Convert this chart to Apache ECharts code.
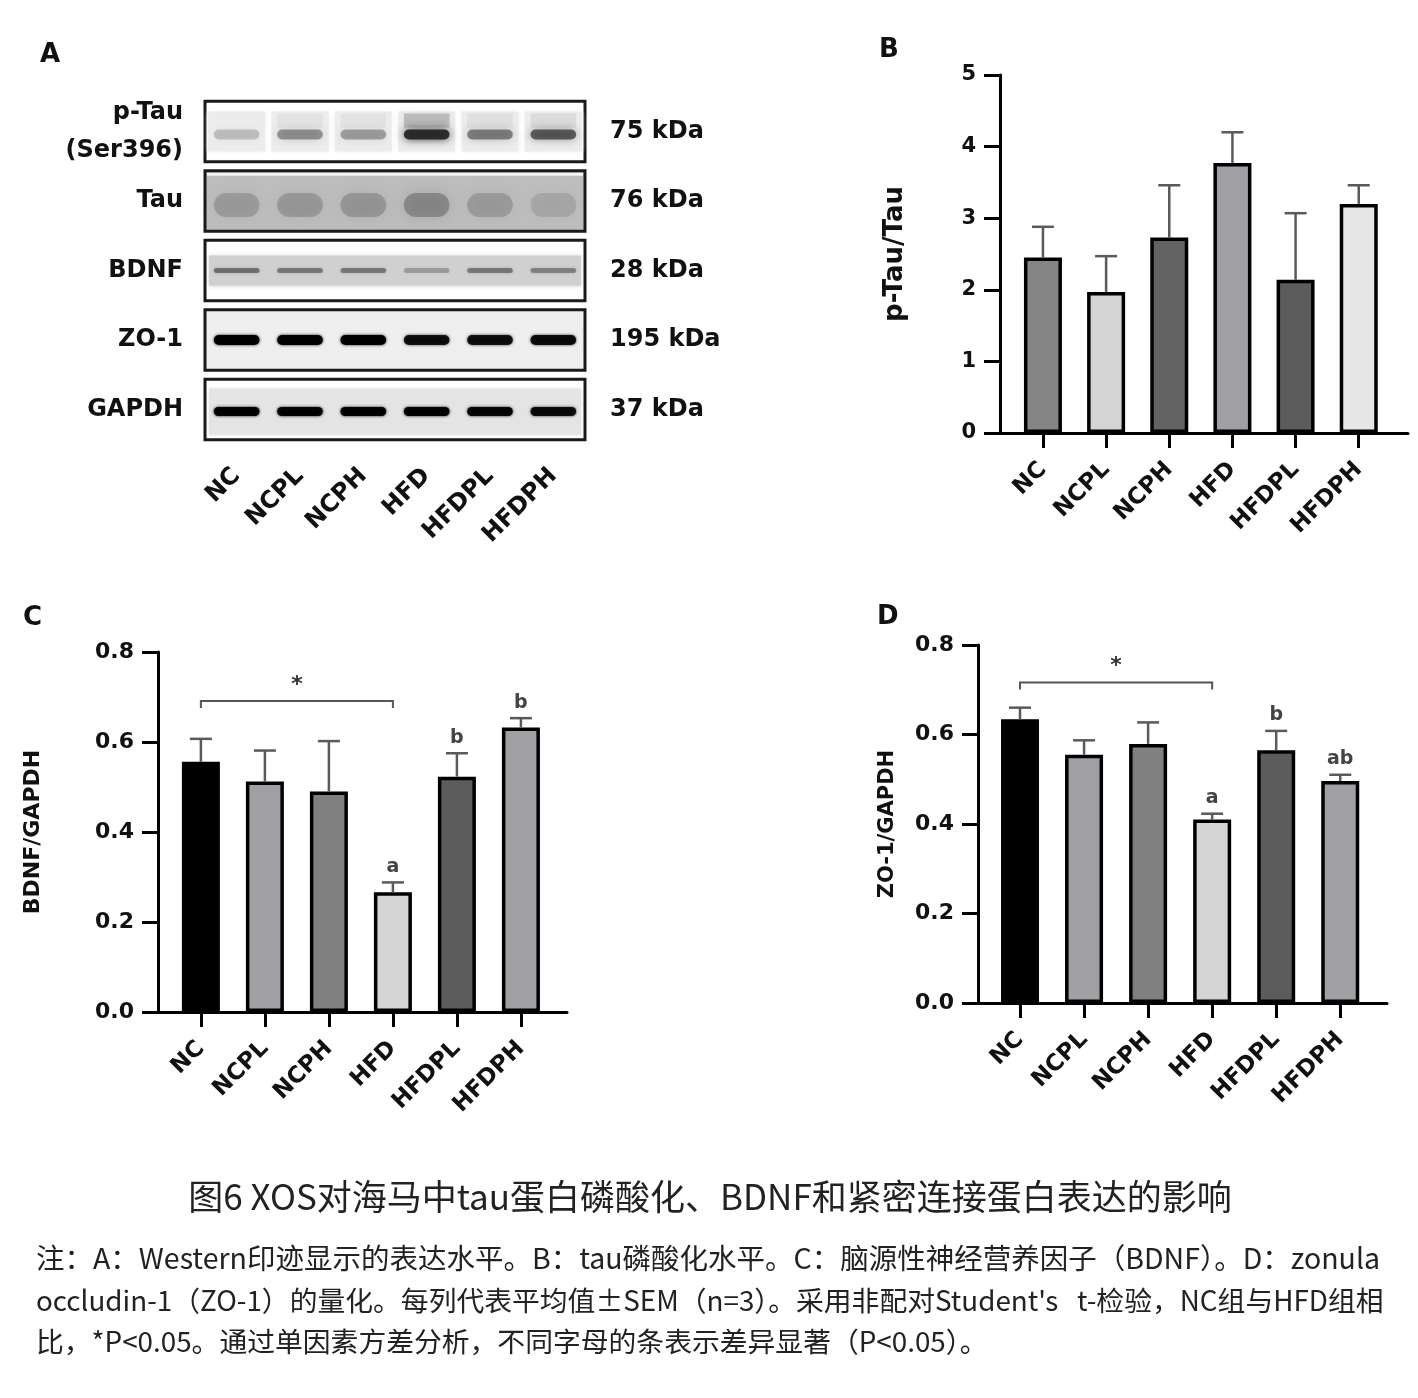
<!DOCTYPE html>
<html>
<head>
<meta charset="utf-8">
<title>图6 XOS对海马中tau蛋白磷酸化、BDNF和紧密连接蛋白表达的影响</title>
<style>
  html, body { margin: 0; padding: 0; background: #fff; }
  #main { width: 1418px; height: 1398px; }
</style>
<script src="https://cdn.jsdelivr.net/npm/echarts@6/dist/echarts.min.js"></script>
</head>
<body>
<div id="main"></div>
<script>
var groups = ['NC', 'NCPL', 'NCPH', 'HFD', 'HFDPL', 'HFDPH'];

// A: western blot, band darkness per lane (0 none .. 1 black), by eye
var blotProteins = ['p-Tau\n(Ser396)', 'Tau', 'BDNF', 'ZO-1', 'GAPDH'];
var blotSizes = ['75 kDa', '76 kDa', '28 kDa', '195 kDa', '37 kDa'];
var pTauBand  = [0.22, 0.42, 0.36, 0.92, 0.50, 0.66];
var pTauSmear = [0.00, 0.04, 0.04, 0.22, 0.06, 0.08];
var tauBand   = [0.30, 0.32, 0.34, 0.45, 0.30, 0.20];
var bdnfBand  = [0.55, 0.50, 0.50, 0.30, 0.50, 0.45];
var zo1Band   = [0.95, 0.95, 0.95, 0.85, 0.85, 0.88];
var gapdhBand = [0.95, 0.95, 0.95, 0.95, 0.92, 0.88];

// B: p-Tau/Tau
var ptauMean = [2.45, 1.97, 2.73, 3.77, 2.14, 3.20];
var ptauSem  = [0.43, 0.50, 0.73, 0.43, 0.93, 0.26];

// C: BDNF/GAPDH
var bdnfMean = [0.556, 0.512, 0.490, 0.266, 0.523, 0.632];
var bdnfSem  = [0.051, 0.069, 0.112, 0.022, 0.052, 0.021];
var bdnfLetters = ['', '', '', 'a', 'b', 'b'];
var bdnfCompare = [0, 3, 0.691];   // NC vs HFD, bracket height

// D: ZO-1/GAPDH
var zoMean = [0.634, 0.555, 0.579, 0.410, 0.565, 0.496];
var zoSem  = [0.026, 0.032, 0.048, 0.013, 0.043, 0.014];
var zoLetters = ['', '', '', 'a', 'b', 'ab'];
var zoCompare = [0, 3, 0.716];

/* styles */
var colorsB  = ['#858585', '#d4d4d4', '#626262', '#a0a0a4', '#5c5c5c', '#e6e6e6'];
var colorsCD = ['#000000', '#a0a0a4', '#808080', '#d4d4d4', '#5c5c5c', '#a0a0a4'];
var rowStyle = [
  { fill: '#ffffff', lane: '#ececec', laneH: 40, bandH: 10, dy: 3, ink: '35,35,35', blur: 8 },
  { fill: '#bdbdbd', lane: null, laneH: 0, bandH: 24, dy: 4, ink: '85,85,85', blur: 14 },
  { fill: '#ffffff', strip: '#d0d0d0', stripH: 30, bandH: 5, dy: 0, ink: '60,60,60', blur: 3 },
  { fill: '#eeeeee', bandH: 10, dy: 0, ink: '0,0,0', blur: 3 },
  { fill: '#ffffff', strip: '#e4e4e4', stripH: 46, bandH: 9, dy: 2, ink: '0,0,0', blur: 3 }
];
var FONT = 'DejaVu Sans';
var CJK = 'Noto Sans CJK SC';

var bandRows = [pTauBand, tauBand, bdnfBand, zo1Band, gapdhBand];
var bandData = [];
bandRows.forEach(function (row, r) {
  row.forEach(function (v, l) {
    bandData.push([l, r, v, r === 0 ? pTauSmear[l] : 0]);
  });
});

/*蛋白条带框*/
function frameRender(params, api) {
  var cs = params.coordSys;
  var r = api.value(1);
  var c = api.coord([0, r]);
  var h = api.size([0, 1])[1] * 0.87;
  var st = rowStyle[r];
  var kids = [{
    type: 'rect',
    shape: { x: cs.x, y: c[1] - h / 2, width: cs.width, height: h },
    style: { fill: st.fill }
  }];
  if (st.strip) {
    kids.push({
      type: 'rect',
      shape: { x: cs.x + 4, y: c[1] - st.stripH / 2 + st.dy, width: cs.width - 8, height: st.stripH },
      style: { fill: st.strip, shadowBlur: 4, shadowColor: st.strip }
    });
  }
  if (r === 1) {
    kids.push({
      type: 'rect',
      shape: { x: cs.x + 2, y: c[1] - h / 2 + 2, width: cs.width - 4, height: 3 },
      style: { fill: '#f4f4f4' }
    });
  }
  kids.push({
    type: 'rect',
    shape: { x: cs.x, y: c[1] - h / 2, width: cs.width, height: h },
    style: { fill: 'none', stroke: '#1a1a1a', lineWidth: 3 }
  });
  return { type: 'group', children: kids };
}

function bandRender(params, api) {
  var l = api.value(0), r = api.value(1), a = api.value(2), smear = api.value(3);
  var c = api.coord([l, r]);
  var pitch = api.size([1, 0])[0];
  var w = pitch * 0.72;
  var st = rowStyle[r];
  var kids = [];
  if (st.lane) {
    kids.push({
      type: 'rect',
      shape: { x: c[0] - pitch * 0.45, y: c[1] - st.laneH / 2, width: pitch * 0.9, height: st.laneH },
      style: { fill: st.lane, shadowBlur: 5, shadowColor: st.lane }
    });
  }
  if (smear > 0) {
    kids.push({
      type: 'rect',
      shape: { x: c[0] - w / 2, y: c[1] - 18, width: w, height: 14 },
      style: { fill: 'rgba(' + st.ink + ',' + smear + ')', shadowBlur: 10, shadowColor: 'rgba(' + st.ink + ',' + smear + ')' }
    });
  }
  var col = 'rgba(' + st.ink + ',' + a + ')';
  kids.push({
    type: 'rect',
    shape: { x: c[0] - w / 2, y: c[1] + st.dy - st.bandH / 2, width: w, height: st.bandH, r: st.bandH / 2 },
    style: { fill: col, shadowBlur: st.blur, shadowColor: col }
  });
  return { type: 'group', children: kids };
}

/*误差线与字母标记*/
function errRender(letters) {
  return function (params, api) {
    var x = api.value(0);
    var lo = api.coord([x, api.value(1)]);
    var hi = api.coord([x, api.value(2)]);
    var cap = 22;
    var kids = [
      { type: 'line', shape: { x1: lo[0], y1: lo[1], x2: hi[0], y2: hi[1] }, style: { stroke: '#5a5a5a', lineWidth: 2.5 } },
      { type: 'line', shape: { x1: hi[0] - cap / 2, y1: hi[1], x2: hi[0] + cap / 2, y2: hi[1] }, style: { stroke: '#5a5a5a', lineWidth: 2.5 } }
    ];
    var t = letters ? letters[params.dataIndex] : '';
    if (t) {
      kids.push({
        type: 'text', x: hi[0], y: hi[1] - 6,
        style: { text: t, fill: '#444', fontSize: 19, fontWeight: 'bold', fontFamily: FONT, align: 'center', verticalAlign: 'bottom' }
      });
    }
    return { type: 'group', children: kids };
  };
}

function bracketRender(params, api) {
  var y = api.value(2);
  var a = api.coord([api.value(0), y]);
  var b = api.coord([api.value(1), y]);
  var drop = 7;
  return {
    type: 'group',
    children: [
      { type: 'polyline', shape: { points: [[a[0], a[1] + drop], [a[0], a[1]], [b[0], b[1]], [b[0], b[1] + drop]] },
        style: { fill: 'none', stroke: '#555', lineWidth: 2 } },
      { type: 'text', x: (a[0] + b[0]) / 2, y: a[1] - 16,
        style: { text: '*', fill: '#333', fontSize: 22, fontWeight: 'bold', fontFamily: FONT, align: 'center', verticalAlign: 'middle' } }
    ]
  };
}

function barAxisX(gridIndex, min, max) {
  return {
    gridIndex: gridIndex, type: 'value', min: min, max: max,
    axisLine: { show: true, onZero: false, lineStyle: { color: '#000', width: 3 } },
    axisTick: { show: true, customValues: [0, 1, 2, 3, 4, 5], length: 15, lineStyle: { color: '#000', width: 3 } },
    axisLabel: {
      customValues: [0, 1, 2, 3, 4, 5], rotate: 45, margin: 33,
      fontSize: 23, fontWeight: 'bold', fontFamily: FONT, color: '#111',
      formatter: function (v) { return groups[v]; }
    },
    splitLine: { show: false }
  };
}

function barAxisY(gridIndex, max, interval, digits, name, nameSize, nameGap, tickSize) {
  return {
    gridIndex: gridIndex, type: 'value', min: 0, max: max, interval: interval,
    name: name, nameLocation: 'middle', nameGap: nameGap,
    nameTextStyle: { fontSize: nameSize, fontWeight: 'bold', fontFamily: FONT, color: '#111' },
    axisLine: { show: true, onZero: false, lineStyle: { color: '#000', width: 3 } },
    axisTick: { show: true, length: 16, lineStyle: { color: '#000', width: 3 } },
    axisLabel: {
      margin: 24, fontSize: tickSize, fontWeight: 'bold', fontFamily: FONT, color: '#111',
      formatter: function (v) { return v.toFixed(digits); }
    },
    splitLine: { show: false }
  };
}

// xAxis index = panel grid, yAxis index = grid + 1 (grid 0 has two y axes)
function barSeries(g, mean, colors) {
  return {
    type: 'bar', xAxisIndex: g, yAxisIndex: g + 1, barWidth: 38,
    data: mean.map(function (v, i) {
      return { value: [i, v], itemStyle: { color: colors[i] } };
    }),
    itemStyle: { borderColor: '#000', borderWidth: 3.5 },
    silent: true, z: 2
  };
}

function errSeries(g, mean, sem, letters) {
  return {
    type: 'custom', xAxisIndex: g, yAxisIndex: g + 1,
    renderItem: errRender(letters),
    data: mean.map(function (v, i) { return [i, v, v + sem[i]]; }),
    silent: true, z: 3
  };
}

function bracketSeries(g, compare) {
  return {
    type: 'custom', xAxisIndex: g, yAxisIndex: g + 1,
    renderItem: bracketRender, data: [compare], silent: true, z: 3
  };
}

var chart = echarts.init(document.getElementById('main'), null, { renderer: 'canvas' });

var option = {
  backgroundColor: '#ffffff',
  animation: false,
  grid: [
    { left: 205, top: 96.75, width: 380, height: 347.5, outerBoundsMode: 'none' },
    { left: 1000, top: 75, width: 408, height: 358, outerBoundsMode: 'none' },
    { left: 158, top: 652, width: 409, height: 360, outerBoundsMode: 'none' },
    { left: 978, top: 645, width: 409, height: 358, outerBoundsMode: 'none' }
  ],
  xAxis: [
    {
      gridIndex: 0, type: 'category', data: groups,
      axisLine: { show: false }, axisTick: { show: false },
      axisLabel: { rotate: 45, margin: 28, fontSize: 24, fontWeight: 'bold', fontFamily: FONT, color: '#111' }
    },
    barAxisX(1, -0.68, 5.78),
    barAxisX(2, -0.67, 5.72),
    barAxisX(3, -0.656, 5.73)
  ],
  yAxis: [
    {
      gridIndex: 0, type: 'category', data: blotProteins, inverse: true,
      axisLine: { show: false }, axisTick: { show: false },
      axisLabel: { margin: 22, fontSize: 24, lineHeight: 38, fontWeight: 'bold', fontFamily: FONT, color: '#111' }
    },
    {
      gridIndex: 0, type: 'category', data: blotSizes, inverse: true, position: 'right',
      axisLine: { show: false }, axisTick: { show: false },
      axisLabel: { margin: 25, fontSize: 24, fontWeight: 'bold', fontFamily: FONT, color: '#111' }
    },
    barAxisY(1, 5, 1, 0, 'p-Tau/Tau', 26, 92, 21),
    barAxisY(2, 0.8, 0.2, 1, 'BDNF/GAPDH', 22, 114, 22),
    barAxisY(3, 0.8, 0.2, 1, 'ZO-1/GAPDH', 21, 80, 22)
  ],
  series: [
    {
      type: 'custom', xAxisIndex: 0, yAxisIndex: 0, renderItem: frameRender,
      data: blotProteins.map(function (p, i) { return [0, i]; }), silent: true, z: 1
    },
    {
      type: 'custom', xAxisIndex: 0, yAxisIndex: 0, renderItem: bandRender,
      data: bandData, silent: true, z: 2
    },
    barSeries(1, ptauMean, colorsB),
    errSeries(1, ptauMean, ptauSem, null),
    barSeries(2, bdnfMean, colorsCD),
    errSeries(2, bdnfMean, bdnfSem, bdnfLetters),
    bracketSeries(2, bdnfCompare),
    barSeries(3, zoMean, colorsCD),
    errSeries(3, zoMean, zoSem, zoLetters),
    bracketSeries(3, zoCompare)
  ],
  graphic: [
    { type: 'text', left: 40, top: 42, style: { text: 'A', fontSize: 26, fontWeight: 'bold', fontFamily: FONT, fill: '#111' } },
    { type: 'text', left: 879, top: 37, style: { text: 'B', fontSize: 26, fontWeight: 'bold', fontFamily: FONT, fill: '#111' } },
    { type: 'text', left: 23, top: 605, style: { text: 'C', fontSize: 26, fontWeight: 'bold', fontFamily: FONT, fill: '#111' } },
    { type: 'text', left: 877, top: 604, style: { text: 'D', fontSize: 26, fontWeight: 'bold', fontFamily: FONT, fill: '#111' } },
    {
      type: 'text', x: 710, y: 1197,
      style: { text: '图6 XOS对海马中tau蛋白磷酸化、BDNF和紧密连接蛋白表达的影响', fontSize: 35, fontFamily: CJK, fill: '#222', align: 'center', verticalAlign: 'middle' }
    },
    {
      type: 'text', x: 36, y: 1258,
      style: { text: '注：A：Western印迹显示的表达水平。B：tau磷酸化水平。C：脑源性神经营养因子（BDNF）。D：zonula', fontSize: 28.5, fontFamily: CJK, fill: '#222', align: 'left', verticalAlign: 'middle' }
    },
    {
      type: 'text', x: 36, y: 1300,
      style: { text: 'occludin-1（ZO-1）的量化。每列代表平均值±SEM（n=3）。采用非配对Student\'s   t-检验，NC组与HFD组相', fontSize: 27.8, fontFamily: CJK, fill: '#222', align: 'left', verticalAlign: 'middle' }
    },
    {
      type: 'text', x: 36, y: 1341,
      style: { text: '比，*P<0.05。通过单因素方差分析，不同字母的条表示差异显著（P<0.05）。', fontSize: 27.8, fontFamily: CJK, fill: '#222', align: 'left', verticalAlign: 'middle' }
    }
  ]
};

chart.setOption(option);
</script>
</body>
</html>
